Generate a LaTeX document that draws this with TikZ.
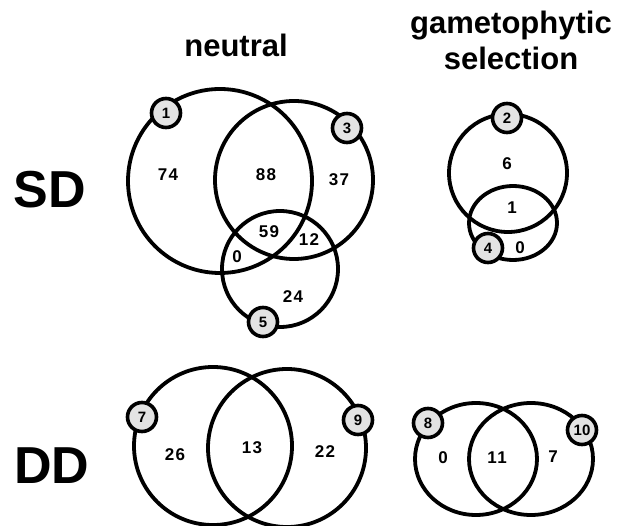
\documentclass[tikz,border=0pt]{standalone}
\usepackage{fontspec}
\setmainfont{Liberation Sans}
\begin{document}
\begin{tikzpicture}[x=1pt,y=-1pt,
  ring/.style={line width=3.8pt},
  tag/.style={circle, draw, line width=3.6pt, fill=gray!22, minimum size=29pt, inner sep=0pt,
    font=\bfseries\fontsize{15}{15}\selectfont},
  num/.style={font=\bfseries\fontsize{17}{17}\selectfont\addfontfeatures{LetterSpace=9}},
  title/.style={font=\bfseries\fontsize{31}{36}\selectfont, align=center},
  rowlab/.style={font=\bfseries\fontsize{52}{52}\selectfont}]
\useasboundingbox (0,0) rectangle (621,526);

% titles
\node[title] (tneu) at (236,45) {neutral};
\node[title] (tgam) at (511,40) {gametophytic\\selection};
\node[rowlab] (sd) at (50,190) {SD};
\node[rowlab] (dd) at (52,466) {DD};

% SD neutral
\draw[ring] (220,181) circle[radius=92pt];
\draw[ring] (294,180) circle[radius=79pt];
\draw[ring] (280,269) circle[radius=58pt];
\node[num] (n74) at (168,175) {74};
\node[num] (n88) at (266,175) {88};
\node[num] (n37) at (339,180) {37};
\node[num] (n59) at (269,232) {59};
\node[num] (n12) at (309,240) {12};
\node[num] (n0a) at (237,257) {0};
\node[num] (n24) at (293,297) {24};
\node[tag] (c1) at (166,113) {1};
\node[tag] (c3) at (347,128) {3};
\node[tag] (c5) at (263,322) {5};

% SD gametophytic
\draw[ring] (508,173) circle[radius=59pt];
\draw[ring] (513,223) ellipse[x radius=44pt, y radius=37pt];
\node[num] (n6) at (507,164) {6};
\node[num] (n1) at (512,208) {1};
\node[num] (n0b) at (520,248) {0};
\node[tag] (c2) at (507,118) {2};
\node[tag] (c4) at (488,248) {4};

% DD neutral
\draw[ring] (213,446) circle[radius=79pt];
\draw[ring] (287,448) circle[radius=79pt];
\node[num] (n26) at (175,455) {26};
\node[num] (n13) at (252,448) {13};
\node[num] (n22) at (325,452) {22};
\node[tag] (c7) at (142,417) {7};
\node[tag] (c9) at (358,420) {9};

% DD gametophytic
\draw[ring] (476,459) ellipse[x radius=61pt, y radius=56pt];
\draw[ring] (531,459) ellipse[x radius=62pt, y radius=56pt];
\node[num] (n0c) at (443,458) {0};
\node[num] (n11) at (497,458) {11};
\node[num] (n7) at (553,457) {7};
\node[tag] (c8) at (428,423) {8};
\node[tag] (c10) at (582,430) {10};
\end{tikzpicture}
\end{document}
